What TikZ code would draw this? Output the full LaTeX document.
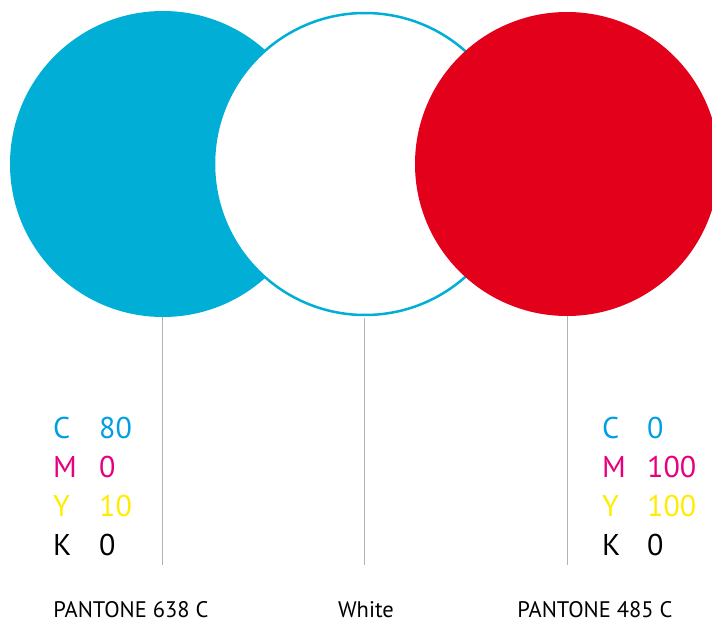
\documentclass[tikz,border=0pt]{standalone}
\usepackage{fontspec}
\setmainfont{PT Sans}
\definecolor{pcyan}{RGB}{0,174,214}
\definecolor{pred}{RGB}{226,0,26}
\definecolor{tcyan}{RGB}{0,159,227}
\definecolor{tmag}{RGB}{230,0,126}
\definecolor{tyel}{RGB}{255,237,0}
\definecolor{lgray}{RGB}{178,178,178}
\begin{document}
\begin{tikzpicture}[x=1pt,y=-1pt,
  disc/.style={circle,inner sep=0pt,minimum size=#1},
  leader/.style={draw=lgray,line width=1pt},
  cmyk/.style={anchor=base west,inner sep=0pt,font=\fontsize{30}{32}\selectfont},
  pname/.style={anchor=base,inner sep=0pt,text depth=0pt,font=\fontsize{22.5}{25}\selectfont}]
\useasboundingbox (0,0) rectangle (712,623);
\clip (0,0) rectangle (712,623);
\node[disc=306pt,fill=pcyan] (c1) at (163,164) {};
\node[disc=302pt,fill=white,draw=pcyan,line width=2.5pt] (c2) at (365,164) {};
\node[disc=304pt,fill=pred] (c3) at (567,164) {};
\coordinate (e1) at (162,565);
\coordinate (e2) at (364,565);
\coordinate (e3) at (567,565);
\draw[leader] (c1.south -| e1) -- (e1);
\draw[leader] (c2.south -| e2) ++(0,1.5) -- (e2);
\draw[leader] (c3.south -| e3) -- (e3);
% left CMYK
\node[cmyk,text=tcyan] (lc) at (53,438) {C};
\node[cmyk,text=tcyan] (lcv) at (99,438) {80};
\node[cmyk,text=tmag] (lm) at (53,477) {M};
\node[cmyk,text=tmag] (lmv) at (99,477) {0};
\node[cmyk,text=tyel] (ly) at (53,516) {Y};
\node[cmyk,text=tyel] (lyv) at (99,516) {10};
\node[cmyk,text=black] (lk) at (53,555) {K};
\node[cmyk,text=black] (lkv) at (99,555) {0};
% right CMYK
\node[cmyk,text=tcyan] (rc) at (602,438) {C};
\node[cmyk,text=tcyan] (rcv) at (647,438) {0};
\node[cmyk,text=tmag] (rm) at (602,477) {M};
\node[cmyk,text=tmag] (rmv) at (647,477) {100};
\node[cmyk,text=tyel] (ry) at (602,516) {Y};
\node[cmyk,text=tyel] (ryv) at (647,516) {100};
\node[cmyk,text=black] (rk) at (602,555) {K};
\node[cmyk,text=black] (rkv) at (647,555) {0};
% names
\node[pname] (n1) at (131,617) {PANTONE 638 C};
\node[pname] (n2) at (366,617) {White};
\node[pname] (n3) at (595,617) {PANTONE 485 C};
\end{tikzpicture}
\end{document}
